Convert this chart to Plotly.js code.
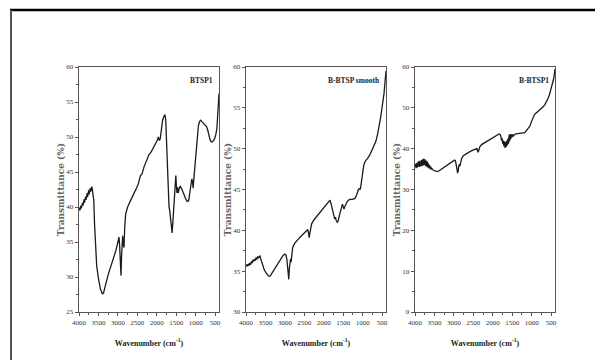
<!DOCTYPE html>
<html>
<head>
<meta charset="utf-8">
<script src="https://cdn.plot.ly/plotly-3.0.1.min.js"></script>
<style>
html,body{margin:0;padding:0;background:#fff;}
#chart{width:595px;height:360px;}
</style>
</head>
<body>
<div id="chart"></div>
<script>
// Panel names
const panelLabels = ["BTSP1", "B-BTSP smooth", "B-BTSP1"];

// Panel 1: BTSP1
const wn1 = [4000,3990,3980,3970,3960,3950,3940,3930,3920,3910,3900,3890,3880,3870,3860,3850,3840,3830,3820,3810,3800,3790,3780,3770,3760,3750,3740,3730,3720,3710,3700,3690,3680,3670,3660,3650,
3620,3600,3580,3545,3500,3450,3400,3370,3330,3280,3246,3200,3150,3100,3050,3000,2972,2955,2935,2920,2905,2890,2877,2860,2843,2825,2800,2750,2690,2600,2520,2475,2420,2380,2330,2260,2200,2150,2090,2030,1980,1961,1930,1910,1880,1850,1820,1790,1770,1750,1730,1715,1700,1685,1670,1660,1640,1620,1605,1590,1570,1550,1530,1510,1495,1480,1465,1450,1430,1400,1370,1340,1300,1260,1220,1180,1150,1120,1100,1080,1065,1050,1020,990,960,930,900,870,840,800,760,720,690,660,630,600,570,540,510,480,455,440,425,410,400];
const t1 = [39.6,39.9,39.5,40.0,39.7,40.2,39.8,40.4,40.0,40.6,40.2,40.9,40.4,41.1,40.6,41.3,40.8,41.5,41.0,41.8,41.2,42.0,41.4,42.2,41.6,42.4,41.8,42.5,42.0,42.7,42.2,42.8,42.4,42.9,42.6,42.3,
41.0,37.5,35.0,31.6,29.8,28.3,27.6,27.7,28.6,29.8,30.4,31.2,32.0,32.8,33.8,35.0,35.7,34.5,31.5,30.2,33.0,35.5,35.9,34.6,34.2,37.0,39.0,40.0,40.8,41.8,42.7,43.3,44.5,44.7,45.7,46.8,47.5,47.8,48.4,49.0,49.6,50.0,49.5,49.8,51.2,52.4,52.9,53.2,52.5,49.0,45.0,42.0,40.4,40.0,39.6,39.0,37.5,36.6,36.3,37.5,39.5,41.5,43.8,44.5,43.0,42.0,42.8,42.0,42.5,43.0,42.7,42.4,41.8,41.2,40.8,40.9,42.0,43.5,44.0,43.6,42.7,43.8,46.0,48.5,50.5,51.6,52.2,52.4,52.2,52.0,51.8,51.5,51.0,50.2,49.6,49.3,49.3,49.5,49.8,50.4,51.2,52.5,54.0,55.5,56.2];

// Panel 2: B-BTSP smooth
const wn2 = [4000,3980,3960,3940,3920,3900,3880,3860,3840,3820,3800,3780,3760,3740,3720,3700,3680,3660,3640,3620,3580,3540,3500,3460,3420,3380,3340,3280,3200,3120,3050,3000,2975,2950,2930,2915,2900,2885,2870,2855,2840,2825,2800,2750,2700,2620,2540,2460,2410,2390,2375,2360,2340,2312,2250,2180,2100,2020,1950,1880,1840,1810,1780,1750,1720,1700,1680,1650,1626,1600,1570,1540,1520,1500,1480,1460,1430,1400,1360,1325,1260,1197,1150,1110,1080,1060,1030,1000,970,940,900,860,820,780,740,700,660,620,580,550,520,490,470,450,430,415,400];
const t2 = [35.6,35.8,35.6,35.9,35.7,36.0,35.8,36.2,36.0,36.4,36.2,36.5,36.3,36.6,36.5,36.8,36.6,36.9,36.9,36.5,35.8,35.3,34.9,34.6,34.4,34.4,34.7,35.2,35.8,36.4,36.9,37.1,37.0,36.5,35.5,34.3,34.0,35.3,36.3,36.5,36.1,36.8,37.9,38.4,38.7,39.1,39.5,39.9,40.1,39.6,39.1,39.6,40.3,40.8,41.3,41.7,42.2,42.7,43.1,43.5,43.7,43.2,42.5,41.8,41.4,41.6,41.2,41.0,41.2,41.8,42.4,42.9,43.2,42.9,42.6,42.9,43.3,43.5,43.7,43.8,43.8,43.9,44.4,45.0,45.1,45.0,46.0,47.2,48.0,48.4,48.6,48.9,49.2,49.6,50.0,50.4,50.9,51.7,52.6,53.5,54.4,55.3,55.9,56.8,57.9,58.8,59.5];

// Panel 3: B-BTSP1
const wn3 = [4000,3985,3970,3955,3940,3925,3910,3895,3880,3865,3850,3835,3820,3805,3790,3775,3760,3745,3730,3715,3700,3685,3670,3655,3640,3625,3610,3595,3580,3560,3530,3500,3460,3420,3380,3320,3250,3180,3100,3030,2985,2960,2940,2920,2905,2890,2875,2860,2845,2825,2800,2758,2700,2620,2540,2460,2410,2390,2375,2360,2330,2288,2200,2100,2000,1900,1840,1810,1790,1775,1760,1745,1730,1715,1700,1685,1670,1655,1640,1625,1610,1595,1580,1565,1550,1535,1520,1505,1490,1475,1450,1400,1350,1300,1250,1175,1130,1090,1047,1010,970,930,890,850,800,750,700,660,620,580,540,510,480,450,430,415,400];
const t3 = [35.5,36.3,35.2,36.5,35.4,36.8,35.6,37.0,35.5,36.9,35.8,37.2,35.7,37.4,35.9,37.5,36.0,37.4,35.8,37.1,35.6,36.9,35.4,36.4,35.2,36.0,35.0,35.6,34.9,35.1,34.7,34.6,34.4,34.4,34.6,35.0,35.6,36.1,36.6,37.0,37.2,37.0,36.2,35.0,34.0,34.5,35.8,36.0,35.7,36.6,37.6,38.3,38.7,39.1,39.5,39.8,40.0,39.5,39.1,39.6,40.5,41.0,41.5,42.1,42.6,43.1,43.6,43.4,43.0,42.0,42.6,41.2,42.0,40.6,41.8,40.2,41.6,40.4,42.0,40.8,42.5,41.2,43.4,41.8,43.6,42.4,43.5,42.8,43.5,43.0,43.4,43.6,43.7,43.8,43.8,43.9,44.5,45.0,45.5,46.5,47.6,48.3,48.7,49.0,49.4,49.8,50.3,50.8,51.5,52.3,53.3,54.3,55.3,56.3,57.3,58.4,59.5];

// Axis ticks
const xTickVals = [4000,3500,3000,2500,2000,1500,1000,500];
const xMinorVals = [3750,3250,2750,2250,1750,1250,750];
const yRanges = [[25,60],[30,60],[0,60]];
const yDticks = [5,5,10];

const W = 595, H = 360;
const xDomains = [[79/W,219/W],[246/W,386/W],[415/W,555/W]];
const yDomain = [1-312/H, 1-67/H];

const lineColor = "#555";
const tickFont = {family:"Liberation Serif", size:7, color:"#333"};

const traces = [];
const xs = [wn1, wn2, wn3], ys = [t1, t2, t3];
for (let i=0;i<3;i++){
  traces.push({
    x: xs[i], y: ys[i], type:"scatter", mode:"lines",
    xaxis: i===0 ? "x" : "x"+(i+1),
    yaxis: i===0 ? "y" : "y"+(i+1),
    line:{color:"#1a1a1a", width:1.3},
    showlegend:false, hoverinfo:"skip"
  });
}

const layout = {
  width: W, height: H,
  margin:{l:0,r:0,t:0,b:0},
  paper_bgcolor:"#fff", plot_bgcolor:"#fff",
  showlegend:false,
  annotations: [],
  shapes: [
    {type:"line", xref:"paper", yref:"paper", x0:10/W, x1:1, y0:1-10/H, y1:1-10/H, line:{color:"#000", width:2.5}},
    {type:"line", xref:"paper", yref:"paper", x0:11/W, x1:11/W, y0:0, y1:1-10/H, line:{color:"#555", width:2}}
  ]
};

for (let i=0;i<3;i++){
  const xk = i===0 ? "xaxis" : "xaxis"+(i+1);
  const yk = i===0 ? "yaxis" : "yaxis"+(i+1);
  const yref = i===0 ? "y" : "y"+(i+1);
  layout[xk] = {
    domain: xDomains[i], anchor: yref,
    range:[4000,400], autorange:false,
    tickvals: xTickVals, ticktext: xTickVals.map(String),
    ticks:"outside", ticklen:3, tickwidth:1, tickcolor:lineColor,
    minor:{tickvals: xMinorVals, ticks:"outside", ticklen:2, tickcolor:lineColor},
    showline:true, linecolor:lineColor, linewidth:1.3, mirror:true,
    showgrid:false, zeroline:false,
    tickfont: tickFont,
    title:{text:"Wavenumber (cm<sup>-1</sup>)", font:{family:"Liberation Serif", size:8, color:"#222", weight:"bold"}, standoff:14}
  };
  layout[yk] = {
    domain: yDomain, anchor: i===0 ? "x" : "x"+(i+1),
    range: yRanges[i], autorange:false,
    dtick: yDticks[i], tick0: 0,
    ticks:"outside", ticklen:3, tickwidth:1, tickcolor:lineColor,
    minor:{dtick: yDticks[i]/2, ticks:"outside", ticklen:2, tickcolor:lineColor},
    showline:true, linecolor:lineColor, linewidth:1.3, mirror:true,
    showgrid:false, zeroline:false,
    tickfont: tickFont,
    title:{text:"Transmittance (%)", font:{family:"DejaVu Serif", size:9, color:"#666", weight:"bold"}, standoff:0}
  };
  layout.annotations.push({
    text: panelLabels[i],
    xref:(i===0 ? "x" : "x"+(i+1))+" domain", yref:yref+" domain",
    x:0.97, y:0.97, xanchor:"right", yanchor:"top", showarrow:false,
    font:{family:"Liberation Serif", size:7.5, color:"#222", weight:"bold"}
  });
}

Plotly.newPlot("chart", traces, layout, {staticPlot:true, displayModeBar:false});
</script>
</body>
</html>
